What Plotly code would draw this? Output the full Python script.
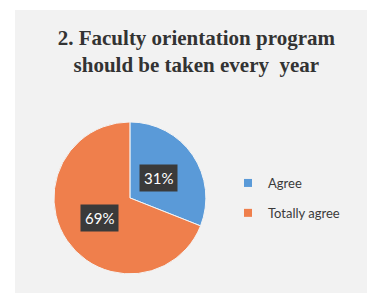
import math
import plotly.graph_objects as go

labels = ["Agree", "Totally agree"]
values = [31, 69]
colors = ["#5a9ad8", "#ef7f4c"]
title_text = "2. Faculty orientation program<br>should be taken every  year"

W, H = 367, 293
dom_x = [0.147, 0.561]
dom_y = [0.065, 0.584]

fig = go.Figure()
fig.add_trace(go.Pie(
    labels=labels, values=values, sort=False, direction="clockwise", rotation=0,
    marker=dict(colors=colors, line=dict(color="#f4f4f4", width=1)),
    textinfo="none", hoverinfo="label+percent", showlegend=False,
    domain=dict(x=dom_x, y=dom_y),
))

# legend entries via dummy traces (to control spacing)
for lab, col in zip(labels, colors):
    fig.add_trace(go.Scatter(
        x=[None], y=[None], mode="markers", name=lab, legendgroup=lab,
        marker=dict(symbol="square", size=8, color=col),
    ))

# percentage labels in dark boxes, positioned from data
cx_px = (dom_x[0] + dom_x[1]) / 2 * W
cy_px = (dom_y[0] + dom_y[1]) / 2 * H
r_px = min((dom_x[1] - dom_x[0]) * W, (dom_y[1] - dom_y[0]) * H) / 2
total = sum(values)
cum = 0
for v, frac in zip(values, [0.46, 0.48]):
    mid = (cum + v / 2) / total * 2 * math.pi
    cum += v
    px = cx_px + frac * r_px * math.sin(mid)
    py = cy_px + frac * r_px * math.cos(mid)
    fig.add_annotation(
        x=px / W, y=py / H, xref="paper", yref="paper",
        xanchor="center", yanchor="middle",
        text=f"{round(v / total * 100)}%", showarrow=False,
        font=dict(family="Lato, Open Sans, sans-serif", size=15, color="white"),
        bgcolor="#3a3a3a", borderpad=4,
    )

fig.add_shape(type="rect", xref="paper", yref="paper",
              x0=15 / W, x1=1.0, y0=0, y1=1 - 10 / H,
              fillcolor="#f2f2f2", line=dict(width=0), layer="below")

fig.update_layout(
    width=W, height=H,
    margin=dict(l=0, r=0, t=0, b=0, autoexpand=False),
    paper_bgcolor="white", plot_bgcolor="rgba(0,0,0,0)",
    xaxis=dict(visible=False), yaxis=dict(visible=False),
    title=dict(text=title_text, x=0.535, xanchor="center", y=1 - 45 / H, yanchor="middle",
               font=dict(family="Liberation Serif, Times New Roman, serif", size=21, color="#333333")),
    legend=dict(x=228 / W, y=1 - 168 / H, xanchor="left", yanchor="top",
                font=dict(family="Lato, Open Sans, sans-serif", size=13, color="#3a3a3a"),
                bgcolor="rgba(0,0,0,0)", tracegroupgap=10, itemwidth=30),
)
fig.update_layout(title_font_weight="bold")

fig.write_html(
    "out.html",
    config={"displayModeBar": False},
    post_script="document.body.style.margin='0';document.body.style.overflow='hidden';",
)
